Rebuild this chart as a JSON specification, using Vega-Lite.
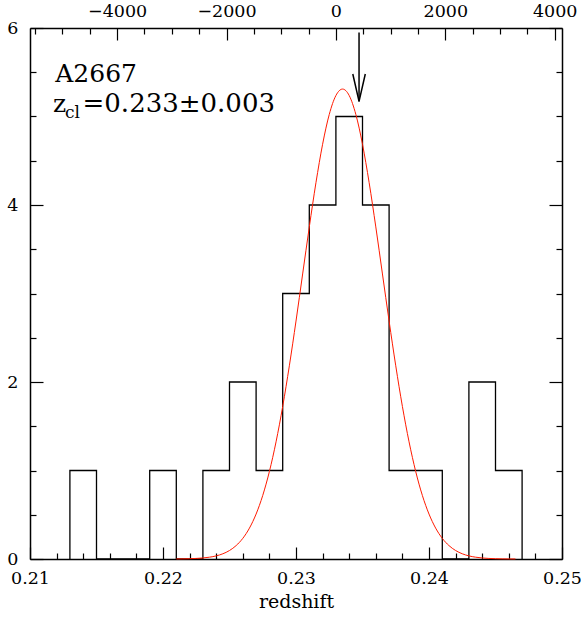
{
  "$schema": "https://vega.github.io/schema/vega-lite/v6.json",
  "width": 532,
  "height": 531,
  "autosize": "none",
  "padding": {"left": 30, "top": 28, "right": 19, "bottom": 58},
  "background": "white",
  "config": {
    "view": {"stroke": null},
    "font": "DejaVu Serif",
    "axis": {
      "domainColor": "black",
      "domainWidth": 1.5,
      "tickColor": "black",
      "tickWidth": 1.2,
      "labelFont": "DejaVu Serif",
      "labelFontSize": 17.5,
      "labelColor": "black",
      "labelFlush": false,
      "labelOverlap": false,
      "labelBound": false,
      "grid": false,
      "zindex": 1,
      "titleFont": "DejaVu Serif",
      "titleColor": "black",
      "titleFontWeight": "normal"
    }
  },
  "datasets": {
    "hist": [
      {"z": 0.213, "n": 0}, {"z": 0.213, "n": 1}, {"z": 0.215, "n": 0}, {"z": 0.217, "n": 0},
      {"z": 0.219, "n": 1}, {"z": 0.221, "n": 0}, {"z": 0.223, "n": 1}, {"z": 0.225, "n": 2},
      {"z": 0.227, "n": 1}, {"z": 0.229, "n": 3}, {"z": 0.231, "n": 4}, {"z": 0.233, "n": 5},
      {"z": 0.235, "n": 4}, {"z": 0.237, "n": 1}, {"z": 0.239, "n": 1}, {"z": 0.241, "n": 0},
      {"z": 0.243, "n": 2}, {"z": 0.245, "n": 1}, {"z": 0.247, "n": 0}
    ],
    "gauss": [
      {"z": 0.221, "g": 0.0009}, {"z": 0.2215, "g": 0.0018}, {"z": 0.222, "g": 0.0034}, {"z": 0.2225, "g": 0.0064},
      {"z": 0.223, "g": 0.0116}, {"z": 0.2235, "g": 0.0205}, {"z": 0.224, "g": 0.0353}, {"z": 0.2245, "g": 0.059},
      {"z": 0.225, "g": 0.0959}, {"z": 0.2255, "g": 0.1517}, {"z": 0.226, "g": 0.2333}, {"z": 0.2265, "g": 0.349},
      {"z": 0.227, "g": 0.5079}, {"z": 0.2275, "g": 0.7187}, {"z": 0.228, "g": 0.9891}, {"z": 0.2285, "g": 1.3241},
      {"z": 0.229, "g": 1.7239}, {"z": 0.2295, "g": 2.183}, {"z": 0.23, "g": 2.6886}, {"z": 0.2305, "g": 3.2207},
      {"z": 0.231, "g": 3.7523}, {"z": 0.2315, "g": 4.2519}, {"z": 0.232, "g": 4.6861}, {"z": 0.2325, "g": 5.023},
      {"z": 0.233, "g": 5.2368}, {"z": 0.2335, "g": 5.31}, {"z": 0.234, "g": 5.2368}, {"z": 0.2345, "g": 5.023},
      {"z": 0.235, "g": 4.6861}, {"z": 0.2355, "g": 4.2519}, {"z": 0.236, "g": 3.7523}, {"z": 0.2365, "g": 3.2207},
      {"z": 0.237, "g": 2.6886}, {"z": 0.2375, "g": 2.183}, {"z": 0.238, "g": 1.7239}, {"z": 0.2385, "g": 1.3241},
      {"z": 0.239, "g": 0.9891}, {"z": 0.2395, "g": 0.7187}, {"z": 0.24, "g": 0.5079}, {"z": 0.2405, "g": 0.349},
      {"z": 0.241, "g": 0.2333}, {"z": 0.2415, "g": 0.1517}, {"z": 0.242, "g": 0.0959}, {"z": 0.2425, "g": 0.059},
      {"z": 0.243, "g": 0.0353}, {"z": 0.2435, "g": 0.0205}, {"z": 0.244, "g": 0.0116}, {"z": 0.2445, "g": 0.0064},
      {"z": 0.245, "g": 0.0034}, {"z": 0.2455, "g": 0.0018}, {"z": 0.246, "g": 0.0009}, {"z": 0.2465, "g": 0.0004}
    ]
  },
  "layer": [
    {
      "data": {"name": "hist"},
      "mark": {"type": "line", "interpolate": "step-after", "color": "black", "strokeWidth": 1.3},
      "encoding": {
        "x": {
          "field": "z", "type": "quantitative",
          "scale": {"domain": [0.21, 0.25], "nice": false, "zero": false},
          "axis": {
            "orient": "bottom",
            "values": [0.21, 0.212, 0.214, 0.216, 0.218, 0.22, 0.222, 0.224, 0.226, 0.228, 0.23, 0.232, 0.234, 0.236, 0.238, 0.24, 0.242, 0.244, 0.246, 0.248, 0.25],
            "labelExpr": "abs(datum.value*100 - round(datum.value*100)) < 1e-6 ? format(datum.value, '.2f') : ''",
            "tickSize": {"condition": {"test": "abs(datum.value*100 - round(datum.value*100)) < 1e-6", "value": -12}, "value": -6},
            "labelPadding": 22,
            "title": "redshift",
            "titleFontSize": 19,
            "titleBaseline": "alphabetic",
            "titleY": 48
          }
        },
        "y": {
          "field": "n", "type": "quantitative",
          "scale": {"domain": [0, 6], "nice": false},
          "axis": {
            "orient": "left",
            "values": [0, 0.5, 1, 1.5, 2, 2.5, 3, 3.5, 4, 4.5, 5, 5.5, 6],
            "labelExpr": "datum.value % 2 === 0 ? format(datum.value, 'd') : ''",
            "tickSize": {"condition": {"test": "datum.value % 2 === 0", "value": -13}, "value": -6},
            "labelPadding": 25,
            "title": null
          }
        }
      }
    },
    {
      "data": {"name": "gauss"},
      "mark": {"type": "line", "interpolate": "monotone", "color": "#ff1a00", "strokeWidth": 1},
      "encoding": {
        "x": {"field": "z", "type": "quantitative", "scale": {"domain": [0.21, 0.25], "nice": false, "zero": false}, "axis": null},
        "y": {"field": "g", "type": "quantitative", "axis": null}
      }
    },
    {
      "data": {"values": [{"z": 0.23474, "top": 5.95, "tip": 5.17}]},
      "mark": {"type": "rule", "color": "black", "strokeWidth": 1.5},
      "encoding": {
        "x": {"field": "z", "type": "quantitative", "scale": {"domain": [0.21, 0.25], "nice": false, "zero": false}, "axis": null},
        "y": {"field": "top", "type": "quantitative", "axis": null},
        "y2": {"field": "tip"}
      }
    },
    {
      "data": {"values": [{"z": 0.23427, "n": 5.48, "o": 1}, {"z": 0.23474, "n": 5.17, "o": 2}, {"z": 0.23521, "n": 5.48, "o": 3}]},
      "mark": {"type": "line", "color": "black", "strokeWidth": 1.5},
      "encoding": {
        "x": {"field": "z", "type": "quantitative", "scale": {"domain": [0.21, 0.25], "nice": false, "zero": false}, "axis": null},
        "y": {"field": "n", "type": "quantitative", "axis": null},
        "order": {"field": "o"}
      }
    },
    {
      "data": {"values": [
        {"t": "A2667", "z": 0.2119, "n": 5.39},
        {"t": "z", "z": 0.21173, "n": 5.051}
      ]},
      "mark": {"type": "text", "align": "left", "baseline": "alphabetic", "fontSize": 25, "font": "DejaVu Serif", "color": "black"},
      "encoding": {
        "x": {"field": "z", "type": "quantitative", "scale": {"domain": [0.21, 0.25], "nice": false, "zero": false}, "axis": null},
        "y": {"field": "n", "type": "quantitative", "axis": null},
        "text": {"field": "t"}
      }
    },
    {
      "data": {"values": [{"t": "=0.233±0.003", "z": 0.21395, "n": 5.051}]},
      "mark": {"type": "text", "align": "left", "baseline": "alphabetic", "fontSize": 26, "font": "DejaVu Serif", "color": "black"},
      "encoding": {
        "x": {"field": "z", "type": "quantitative", "scale": {"domain": [0.21, 0.25], "nice": false, "zero": false}, "axis": null},
        "y": {"field": "n", "type": "quantitative", "axis": null},
        "text": {"field": "t"}
      }
    },
    {
      "data": {"values": [{"t": "cl", "z": 0.21263, "n": 4.983}]},
      "mark": {"type": "text", "align": "left", "baseline": "alphabetic", "fontSize": 17, "font": "DejaVu Serif", "color": "black"},
      "encoding": {
        "x": {"field": "z", "type": "quantitative", "scale": {"domain": [0.21, 0.25], "nice": false, "zero": false}, "axis": null},
        "y": {"field": "n", "type": "quantitative", "axis": null},
        "text": {"field": "t"}
      }
    },
    {
      "data": {"values": [{"v": -4000, "n": 0}, {"v": 4000, "n": 0}]},
      "mark": {"type": "point", "opacity": 0},
      "encoding": {
        "x": {
          "field": "v", "type": "quantitative",
          "scale": {"domain": [-5592.3, 4133.4], "nice": false, "zero": false},
          "axis": {
            "orient": "top",
            "values": [-5500, -5000, -4500, -4000, -3500, -3000, -2500, -2000, -1500, -1000, -500, 0, 500, 1000, 1500, 2000, 2500, 3000, 3500, 4000],
            "labelExpr": "datum.value % 2000 === 0 ? format(datum.value, 'd') : ''",
            "tickSize": {"condition": {"test": "datum.value % 2000 === 0", "value": -12}, "value": -6},
            "labelPadding": 20,
            "title": null
          }
        },
        "y": {
          "field": "n", "type": "quantitative",
          "axis": {
            "orient": "right",
            "values": [0, 0.5, 1, 1.5, 2, 2.5, 3, 3.5, 4, 4.5, 5, 5.5, 6],
            "labels": false,
            "tickSize": {"condition": {"test": "datum.value % 2 === 0", "value": -13}, "value": -6},
            "title": null
          }
        }
      }
    }
  ],
  "resolve": {"scale": {"x": "independent"}, "axis": {"x": "independent", "y": "independent"}}
}
